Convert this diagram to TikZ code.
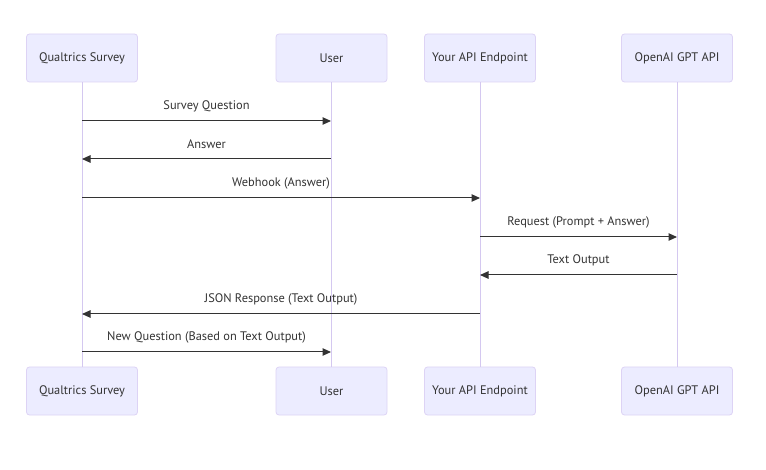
\documentclass[tikz,border=0pt]{standalone}
\usepackage{fontspec}
\setmainfont{PT Sans}
\usetikzlibrary{arrows.meta}
\definecolor{actfill}{HTML}{ECECFF}
\definecolor{actline}{HTML}{DDD3F5}
\definecolor{lifeline}{HTML}{D4C8F0}
\definecolor{ink}{HTML}{333333}
\tikzset{
  actor/.style={draw=actline, fill=actfill, rounded corners=3pt, line width=0.8pt,
    minimum width=111pt, minimum height=48pt, inner sep=0pt, text=ink, font=\fontsize{12.4}{14}\selectfont},
  life/.style={draw=lifeline, line width=1pt},
  msg/.style={draw=ink, line width=1pt, -{Triangle[length=8.5pt,width=7.5pt]}},
  lbl/.style={text=ink, font=\fontsize{12.4}{14}\selectfont, inner sep=0pt},
}
\begin{document}
\begin{tikzpicture}[x=1pt,y=-1pt]
\useasboundingbox (0,0) rectangle (766,470);
% top actors
\node[actor] (qt) at (82,58) {Qualtrics Survey};
\node[actor] (ut) at (331.5,58) {User};
\node[actor] (at) at (480,58) {Your API Endpoint};
\node[actor] (ot) at (677,58) {OpenAI GPT API};
% bottom actors
\node[actor] (qb) at (82,391) {Qualtrics Survey};
\node[actor] (ub) at (331.5,391) {User};
\node[actor] (ab) at (480,391) {Your API Endpoint};
\node[actor] (ob) at (677,391) {OpenAI GPT API};
% lifelines
\draw[life] (qt.south) -- (qb.north);
\draw[life] (ut.south) -- (ub.north);
\draw[life] (at.south) -- (ab.north);
\draw[life] (ot.south) -- (ob.north);
% message anchor coordinates
\coordinate (q1) at (82,121);  \coordinate (u1) at (331,121);
\coordinate (q2) at (82,159);  \coordinate (u2) at (331,159);
\coordinate (q3) at (82,198);  \coordinate (a3) at (480,198);
\coordinate (a4) at (480,237); \coordinate (o4) at (677,237);
\coordinate (a5) at (480,275); \coordinate (o5) at (677,275);
\coordinate (q6) at (82,314);  \coordinate (a6) at (480,314);
\coordinate (q7) at (82,352);  \coordinate (u7) at (331,352);
% messages
\draw[msg] (q1) -- (u1);
\node[lbl] (l1) at (206.5,106) {Survey Question};
\draw[msg] (u2) -- (q2);
\node[lbl] (l2) at (206.5,144) {Answer};
\draw[msg] (q3) -- (a3);
\node[lbl] (l3) at (281,183) {Webhook (Answer)};
\draw[msg] (a4) -- (o4);
\node[lbl] (l4) at (578.5,222) {Request (Prompt + Answer)};
\draw[msg] (o5) -- (a5);
\node[lbl] (l5) at (578.5,260) {Text Output};
\draw[msg] (a6) -- (q6);
\node[lbl] (l6) at (281,299) {JSON Response (Text Output)};
\draw[msg] (q7) -- (u7);
\node[lbl] (l7) at (206.5,337) {New Question (Based on Text Output)};
\end{tikzpicture}
\end{document}
